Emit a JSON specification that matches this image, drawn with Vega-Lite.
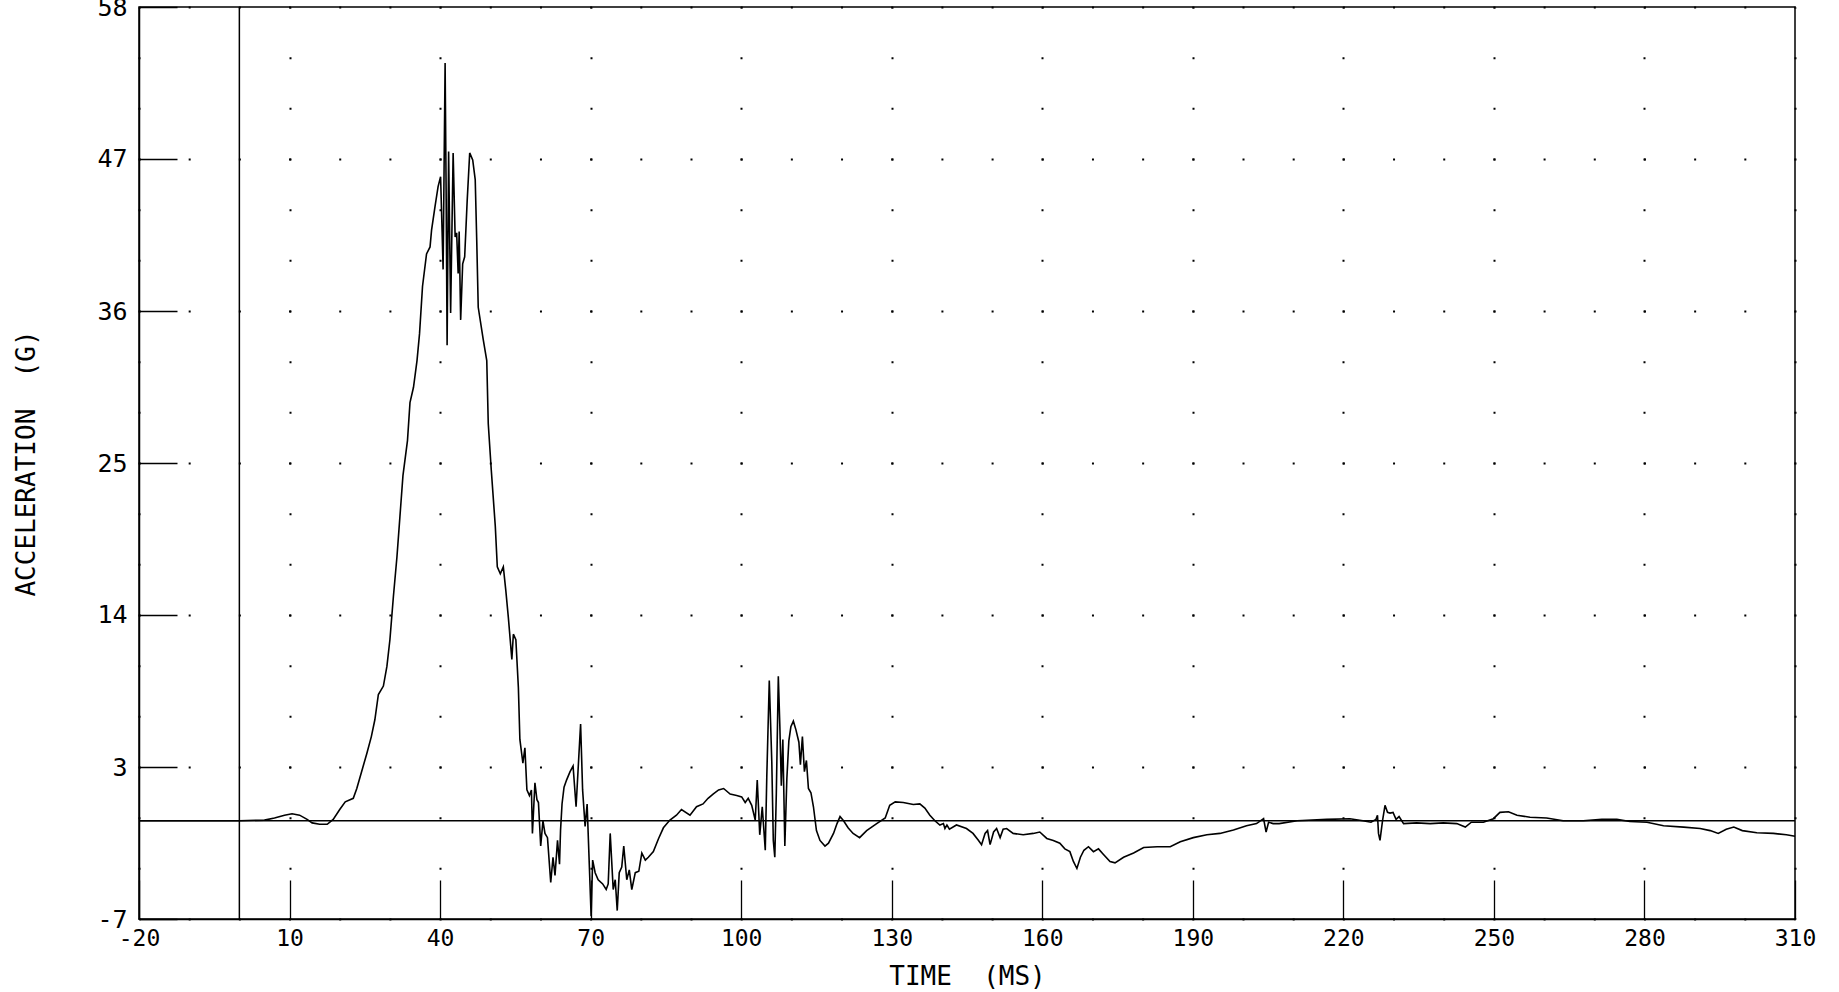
{
  "$schema": "https://vega.github.io/schema/vega-lite/v6.json",
  "width": 1656,
  "height": 912,
  "autosize": {"type": "none"},
  "padding": {"left": 139, "top": 7, "right": 44, "bottom": 73},
  "background": "white",
  "config": {
    "view": {"stroke": "black", "strokeWidth": 1.5},
    "axis": {
      "domainColor": "black", "domainWidth": 1.5,
      "tickColor": "black", "tickWidth": 1.3,
      "labelColor": "black", "labelFont": "DejaVu Sans Mono", "labelFontSize": 23, "labelFontWeight": "normal",
      "titleFont": "DejaVu Sans Mono", "titleFontSize": 26, "titleFontWeight": "normal", "titleColor": "black",
      "gridColor": "black", "gridOpacity": 1, "gridWidth": 2
    }
  },
  "layer": [
    {
      "data": {"values": [{"t0": 0}]},
      "mark": {"type": "rule", "color": "black", "strokeWidth": 1.5},
      "encoding": {"x": {"field": "t0", "type": "quantitative"}}
    },
    {
      "data": {"values": [{"v0": 0}]},
      "mark": {"type": "rule", "color": "black", "strokeWidth": 1.5},
      "encoding": {"y": {"field": "v0", "type": "quantitative"}}
    },
    {
      "data": {"values": [
        {"t": -20, "v": 0}, {"t": -10, "v": 0}, {"t": 0, "v": 0}, {"t": 5, "v": 0.05}, {"t": 7, "v": 0.2},
        {"t": 9, "v": 0.4}, {"t": 10.5, "v": 0.5}, {"t": 12, "v": 0.4}, {"t": 13.5, "v": 0.1}, {"t": 14.5, "v": -0.15},
        {"t": 16, "v": -0.25}, {"t": 17.5, "v": -0.25}, {"t": 18.7, "v": 0.1}, {"t": 20, "v": 0.8}, {"t": 21.1, "v": 1.35},
        {"t": 22.7, "v": 1.6}, {"t": 23.4, "v": 2.3}, {"t": 24.6, "v": 3.8}, {"t": 25.4, "v": 4.8}, {"t": 26.3, "v": 6.0},
        {"t": 27.0, "v": 7.2}, {"t": 27.7, "v": 9.0}, {"t": 28.7, "v": 9.6}, {"t": 29.4, "v": 11.0}, {"t": 30.0, "v": 12.9},
        {"t": 30.7, "v": 16.0}, {"t": 31.4, "v": 18.8}, {"t": 32.0, "v": 21.7}, {"t": 32.6, "v": 24.6}, {"t": 33.5, "v": 27.1},
        {"t": 34.0, "v": 29.8}, {"t": 34.7, "v": 30.9}, {"t": 35.4, "v": 32.8}, {"t": 35.9, "v": 34.7}, {"t": 36.5, "v": 38.1},
        {"t": 37.3, "v": 40.4}, {"t": 38.0, "v": 40.9}, {"t": 38.3, "v": 42.1}, {"t": 39.0, "v": 43.8}, {"t": 39.6, "v": 45.2},
        {"t": 40.1, "v": 45.9}, {"t": 40.4, "v": 42.0}, {"t": 40.6, "v": 39.3}, {"t": 41.0, "v": 54.0}, {"t": 41.2, "v": 45.0},
        {"t": 41.4, "v": 33.9}, {"t": 41.7, "v": 47.7}, {"t": 42.1, "v": 36.2}, {"t": 42.6, "v": 47.6}, {"t": 43.0, "v": 41.6},
        {"t": 43.3, "v": 41.9}, {"t": 43.6, "v": 39.0}, {"t": 43.8, "v": 42.0}, {"t": 44.1, "v": 35.7}, {"t": 44.5, "v": 39.7},
        {"t": 44.9, "v": 40.2}, {"t": 45.4, "v": 44.2}, {"t": 45.9, "v": 47.6}, {"t": 46.5, "v": 47.1}, {"t": 47.0, "v": 45.7},
        {"t": 47.3, "v": 41.4}, {"t": 47.6, "v": 36.6}, {"t": 48.6, "v": 34.3}, {"t": 49.3, "v": 32.8}, {"t": 49.6, "v": 28.3},
        {"t": 50.2, "v": 25.0}, {"t": 51.0, "v": 21.0}, {"t": 51.4, "v": 18.1}, {"t": 52.0, "v": 17.6}, {"t": 52.6, "v": 18.1},
        {"t": 53.1, "v": 16.4}, {"t": 53.6, "v": 14.5}, {"t": 54.3, "v": 11.5}, {"t": 54.6, "v": 13.3}, {"t": 55.1, "v": 12.9},
        {"t": 55.6, "v": 9.5}, {"t": 55.9, "v": 5.8}, {"t": 56.5, "v": 4.1}, {"t": 56.9, "v": 5.2}, {"t": 57.3, "v": 2.2},
        {"t": 57.8, "v": 1.8}, {"t": 58.2, "v": 2.2}, {"t": 58.4, "v": -0.9}, {"t": 58.9, "v": 2.7}, {"t": 59.3, "v": 1.5},
        {"t": 59.6, "v": 1.3}, {"t": 60.05, "v": -1.8}, {"t": 60.5, "v": 0.0}, {"t": 60.9, "v": -0.9}, {"t": 61.4, "v": -1.2},
        {"t": 62.05, "v": -4.4}, {"t": 62.5, "v": -2.6}, {"t": 62.9, "v": -3.9}, {"t": 63.4, "v": -1.4}, {"t": 63.8, "v": -3.1},
        {"t": 64.0, "v": -0.7}, {"t": 64.3, "v": 1.2}, {"t": 64.7, "v": 2.4}, {"t": 65.2, "v": 2.9}, {"t": 65.9, "v": 3.5},
        {"t": 66.5, "v": 3.9}, {"t": 67.1, "v": 1.0}, {"t": 67.6, "v": 4.3}, {"t": 68.0, "v": 6.9}, {"t": 68.4, "v": 2.2},
        {"t": 68.9, "v": -0.4}, {"t": 69.3, "v": 1.2}, {"t": 69.7, "v": -2.8}, {"t": 70.1, "v": -6.8}, {"t": 70.4, "v": -2.8},
        {"t": 70.9, "v": -3.7}, {"t": 71.5, "v": -4.2}, {"t": 72.4, "v": -4.5}, {"t": 73.1, "v": -4.9}, {"t": 73.5, "v": -4.5},
        {"t": 73.9, "v": -0.9}, {"t": 74.5, "v": -4.9}, {"t": 74.9, "v": -4.2}, {"t": 75.3, "v": -6.4}, {"t": 75.7, "v": -3.7},
        {"t": 76.2, "v": -3.3}, {"t": 76.6, "v": -1.8}, {"t": 77.2, "v": -4.2}, {"t": 77.7, "v": -3.5}, {"t": 78.2, "v": -4.9},
        {"t": 78.9, "v": -3.7}, {"t": 79.6, "v": -3.6}, {"t": 80.2, "v": -2.3}, {"t": 80.9, "v": -2.8}, {"t": 81.5, "v": -2.6},
        {"t": 82.5, "v": -2.2}, {"t": 83.5, "v": -1.3}, {"t": 84.5, "v": -0.5}, {"t": 85.8, "v": 0.05}, {"t": 87.1, "v": 0.4},
        {"t": 88.1, "v": 0.8}, {"t": 89.8, "v": 0.4}, {"t": 91.1, "v": 1.0}, {"t": 92.4, "v": 1.2}, {"t": 93.4, "v": 1.6},
        {"t": 94.4, "v": 1.9}, {"t": 95.5, "v": 2.2}, {"t": 96.5, "v": 2.3}, {"t": 97.8, "v": 1.9}, {"t": 99.1, "v": 1.8},
        {"t": 100.1, "v": 1.7}, {"t": 100.8, "v": 1.3}, {"t": 101.4, "v": 1.6}, {"t": 102.1, "v": 1.1}, {"t": 102.8, "v": 0.05},
        {"t": 103.2, "v": 2.9}, {"t": 103.7, "v": -1.0}, {"t": 104.2, "v": 1.0}, {"t": 104.8, "v": -2.1}, {"t": 105.1, "v": 3.1},
        {"t": 105.6, "v": 10.0}, {"t": 106.1, "v": 4.2}, {"t": 106.4, "v": -1.4}, {"t": 106.7, "v": -2.6}, {"t": 107.0, "v": 1.9},
        {"t": 107.4, "v": 10.3}, {"t": 107.7, "v": 6.8}, {"t": 108.0, "v": 2.5}, {"t": 108.3, "v": 5.8}, {"t": 108.7, "v": -1.8},
        {"t": 109.1, "v": 3.0}, {"t": 109.5, "v": 5.7}, {"t": 109.9, "v": 6.7}, {"t": 110.4, "v": 7.1}, {"t": 110.9, "v": 6.5},
        {"t": 111.5, "v": 5.6}, {"t": 111.8, "v": 4.0}, {"t": 112.2, "v": 6.0}, {"t": 112.6, "v": 3.5}, {"t": 113.0, "v": 4.3},
        {"t": 113.4, "v": 2.3}, {"t": 113.9, "v": 2.0}, {"t": 114.4, "v": 1.0}, {"t": 115.0, "v": -0.7}, {"t": 115.7, "v": -1.4},
        {"t": 116.7, "v": -1.8}, {"t": 117.4, "v": -1.6}, {"t": 118.4, "v": -0.9}, {"t": 119.1, "v": -0.2}, {"t": 119.7, "v": 0.3},
        {"t": 120.4, "v": 0.0}, {"t": 121.3, "v": -0.5}, {"t": 122.3, "v": -0.9}, {"t": 123.6, "v": -1.2}, {"t": 125.0, "v": -0.7},
        {"t": 127.0, "v": -0.2}, {"t": 128.7, "v": 0.2}, {"t": 129.6, "v": 1.1}, {"t": 130.7, "v": 1.35}, {"t": 132.3, "v": 1.3},
        {"t": 134.3, "v": 1.16}, {"t": 135.6, "v": 1.2}, {"t": 136.6, "v": 0.9}, {"t": 137.6, "v": 0.4}, {"t": 138.6, "v": 0.0},
        {"t": 139.6, "v": -0.3}, {"t": 140.3, "v": -0.2}, {"t": 140.6, "v": -0.55}, {"t": 141.0, "v": -0.3}, {"t": 141.5, "v": -0.6},
        {"t": 142.9, "v": -0.3}, {"t": 144.9, "v": -0.55}, {"t": 146.2, "v": -0.9}, {"t": 147.3, "v": -1.4}, {"t": 147.9, "v": -1.7},
        {"t": 148.6, "v": -0.9}, {"t": 149.1, "v": -0.7}, {"t": 149.6, "v": -1.7}, {"t": 150.3, "v": -0.8}, {"t": 150.9, "v": -0.55},
        {"t": 151.6, "v": -1.2}, {"t": 152.2, "v": -0.6}, {"t": 152.9, "v": -0.55}, {"t": 154.2, "v": -0.9}, {"t": 156.2, "v": -1.0},
        {"t": 158.2, "v": -0.9}, {"t": 159.5, "v": -0.8}, {"t": 160.9, "v": -1.26}, {"t": 162.2, "v": -1.4}, {"t": 163.5, "v": -1.6},
        {"t": 164.5, "v": -2.0}, {"t": 165.5, "v": -2.2}, {"t": 166.2, "v": -2.9}, {"t": 166.9, "v": -3.4}, {"t": 167.6, "v": -2.6},
        {"t": 168.3, "v": -2.1}, {"t": 169.2, "v": -1.85}, {"t": 170.2, "v": -2.2}, {"t": 171.2, "v": -2.0}, {"t": 172.2, "v": -2.4},
        {"t": 173.5, "v": -2.9}, {"t": 174.5, "v": -3.0}, {"t": 176.2, "v": -2.6}, {"t": 178.2, "v": -2.3}, {"t": 180.2, "v": -1.9},
        {"t": 182.9, "v": -1.85}, {"t": 185.5, "v": -1.85}, {"t": 187.5, "v": -1.5}, {"t": 190.1, "v": -1.2}, {"t": 192.8, "v": -1.0},
        {"t": 195.4, "v": -0.9}, {"t": 198.1, "v": -0.66}, {"t": 200.7, "v": -0.36}, {"t": 202.7, "v": -0.2}, {"t": 204.1, "v": 0.16},
        {"t": 204.6, "v": -0.8}, {"t": 205.1, "v": -0.1}, {"t": 206.0, "v": -0.2}, {"t": 207.2, "v": -0.2}, {"t": 210.8, "v": 0.0},
        {"t": 216.7, "v": 0.1}, {"t": 221.3, "v": 0.15}, {"t": 223.9, "v": 0.0}, {"t": 225.5, "v": -0.1}, {"t": 226.5, "v": 0.1},
        {"t": 226.8, "v": 0.4}, {"t": 227.0, "v": -0.9}, {"t": 227.3, "v": -1.4}, {"t": 227.8, "v": 0.0}, {"t": 228.3, "v": 1.1},
        {"t": 228.8, "v": 0.6}, {"t": 229.3, "v": 0.55}, {"t": 229.9, "v": 0.6}, {"t": 230.5, "v": 0.1}, {"t": 231.1, "v": 0.3},
        {"t": 232.0, "v": -0.2}, {"t": 234.6, "v": -0.15}, {"t": 237.3, "v": -0.2}, {"t": 239.9, "v": -0.15}, {"t": 242.6, "v": -0.2},
        {"t": 244.3, "v": -0.45}, {"t": 245.5, "v": -0.1}, {"t": 247.9, "v": -0.1}, {"t": 249.9, "v": 0.15}, {"t": 251.2, "v": 0.6},
        {"t": 252.9, "v": 0.64}, {"t": 254.6, "v": 0.4}, {"t": 257.2, "v": 0.25}, {"t": 260.5, "v": 0.2}, {"t": 263.8, "v": 0.0},
        {"t": 267.8, "v": 0.0}, {"t": 271.5, "v": 0.1}, {"t": 274.5, "v": 0.1}, {"t": 277.1, "v": -0.05}, {"t": 280.5, "v": -0.1},
        {"t": 283.8, "v": -0.35}, {"t": 287.8, "v": -0.45}, {"t": 291.1, "v": -0.55}, {"t": 293.1, "v": -0.7}, {"t": 294.7, "v": -0.9},
        {"t": 296.3, "v": -0.6}, {"t": 297.8, "v": -0.45}, {"t": 299.5, "v": -0.7}, {"t": 302.4, "v": -0.85}, {"t": 305.7, "v": -0.9},
        {"t": 308.3, "v": -1.0}, {"t": 310, "v": -1.1}
      ]},
      "mark": {"type": "line", "color": "black", "strokeWidth": 1.6},
      "encoding": {
        "x": {
          "field": "t", "type": "quantitative",
          "scale": {"domain": [-20, 310], "nice": false, "zero": false},
          "axis": {
            "values": [-20, 10, 40, 70, 100, 130, 160, 190, 220, 250, 280, 310],
            "labelExpr": "'' + datum.value",
            "labelFlush": false,
            "labelOverlap": false,
            "tickSize": -39,
            "labelPadding": 47,
            "grid": true,
            "gridDash": [2, 48.667],
            "gridDashOffset": 1,
            "title": "TIME\u00a0\u00a0(MS)",
            "titleY": 57,
            "titleBaseline": "middle"
          }
        },
        "y": {
          "field": "v", "type": "quantitative",
          "scale": {"domain": [-7, 58], "nice": false, "zero": false},
          "axis": {
            "values": [-7, 3.8333, 14.6667, 25.5, 36.3333, 47.1667, 58],
            "labelExpr": "'' + floor(datum.value)",
            "labelFontSize": 25,
            "labelFlush": false,
            "labelOverlap": false,
            "tickSize": -38,
            "labelPadding": 50,
            "grid": true,
            "gridDash": [2, 48.182],
            "gridDashOffset": 1,
            "title": "ACCELERATION\u00a0\u00a0(G)",
            "titleX": -113,
            "titleBaseline": "middle",
            "titleAlign": "center"
          }
        }
      }
    }
  ]
}
